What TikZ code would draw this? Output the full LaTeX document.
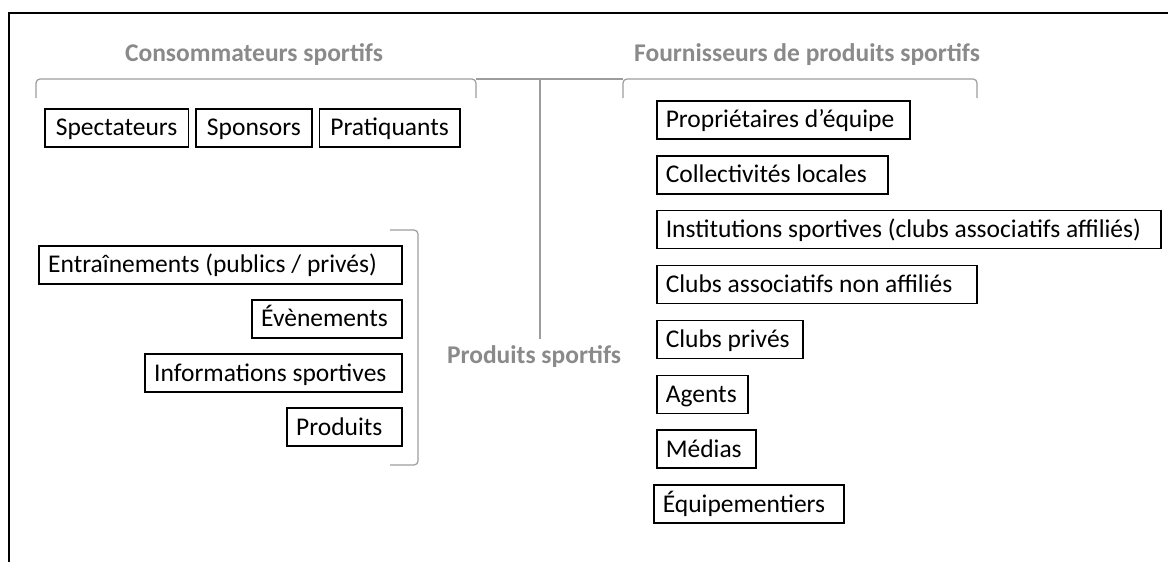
\documentclass[tikz,border=0pt]{standalone}
\usepackage{fontspec}
\setmainfont{Carlito}
\usetikzlibrary{positioning}
\definecolor{HeadGray}{HTML}{8A8A8A}
\definecolor{BraceGray}{HTML}{9C9C9C}
\newcommand{\itemfont}{\fontsize{25.5}{30}\selectfont}

\begin{document}
\begin{tikzpicture}[x=1pt, y=-1pt,
  node distance=15.3pt and 6pt,
  item/.style={draw, line width=1.6pt, minimum height=38pt, inner xsep=9pt, inner ysep=0pt,
               text height=16pt, text depth=0pt, align=flush left, font=\itemfont},
  head/.style={font=\itemfont\bfseries, text=HeadGray},
  brace/.style={draw=BraceGray, line width=1.2pt, rounded corners=4pt},
  spine/.style={draw=BraceGray, line width=1.2pt}
]
  \useasboundingbox (0,0) rectangle (1168,562);
  \draw[line width=1.5pt] (9,562) -- (9,13) -- (1168,13);

  \node[head] (consHead) at (254,55) {Consommateurs sportifs};
  \node[head] (fourHead) at (807,55) {Fournisseurs de produits sportifs};

  % consommateurs
  \node[item, inner xsep=11pt, anchor=north west] (spect) at (44,108) {Spectateurs};
  \node[item, inner xsep=11pt, right=of spect] (spons) {Sponsors};
  \node[item, inner xsep=11pt, right=of spons] (prat) {Pratiquants};

  % produits
  \node[item, anchor=north east, text width=345pt] (entrain) at (403,245) {Entraînements (publics / privés)};
  \node[item, below=14.5pt of entrain.south east, anchor=north east, text width=132pt] (even) {Évènements};
  \node[item, below=14.5pt of even.south east, anchor=north east, text width=239pt] (info) {Informations sportives};
  \node[item, below=14.5pt of info.south east, anchor=north east, text width=97pt] (prod) {Produits};

  % fournisseurs
  \node[item, anchor=north west, text width=235pt] (prop) at (656,100) {Propriétaires d’équipe};
  \node[item, below=of prop.south west, anchor=north west, text width=213pt] (coll) {Collectivités locales};
  \node[item, below=of coll.south west, anchor=north west, text width=486pt] (inst) {Institutions sportives (clubs associatifs affiliés)};
  \node[item, below=of inst.south west, anchor=north west, text width=302pt] (assoc) {Clubs associatifs non affiliés};
  \node[item, below=of assoc.south west, anchor=north west, text width=128pt] (prive) {Clubs privés};
  \node[item, below=of prive.south west, anchor=north west, text width=73pt] (agent) {Agents};
  \node[item, below=of agent.south west, anchor=north west, text width=81pt] (media) {Médias};
  \node[item, below=of media.south west, anchor=north west, xshift=-3pt, text width=172pt] (equip) {Équipementiers};

  \node[head] (prodHead) at (534,357) {Produits sportifs};

  % accolades
  \coordinate (spineTop) at (540,79);
  \draw[brace] (36,98) -- (36,79) -- (476,79) -- (476,98);
  \draw[spine] (476,79) -- (623,79);
  \draw[brace] (623,98) -- (623,79) -- (977,79) -- (977,98);
  \draw[brace] (390,230) -- (418,230) -- (418,465) -- (390,465);
  \draw[spine, shorten >=4pt] (spineTop) -- (spineTop |- prodHead.north);
\end{tikzpicture}
\end{document}
